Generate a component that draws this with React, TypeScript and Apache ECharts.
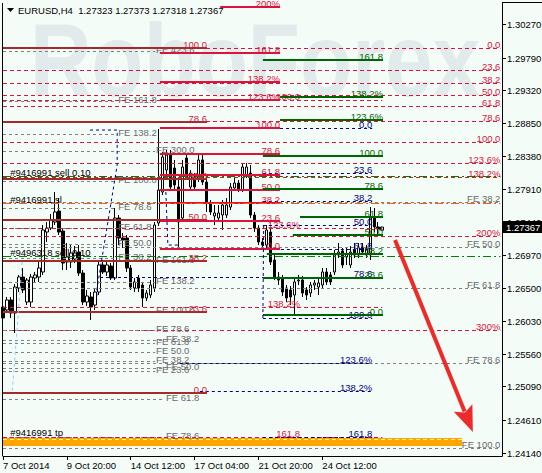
import React, { useEffect, useRef } from "react";
import * as echarts from "echarts";

const SYMBOL = "EURUSD,H4";
const xTickLabels = ["7 Oct 2014", "9 Oct 20:00", "14 Oct 12:00", "17 Oct 04:00", "21 Oct 20:00", "24 Oct 12:00"];
const TICK_EVERY = 16;
const SLOT_COUNT = 126;
const yTicks = [1.3027, 1.2979, 1.2932, 1.2885, 1.2838, 1.2791, 1.2744, 1.2697, 1.265, 1.2603, 1.2556, 1.2509, 1.2461, 1.2414];
const Y_MIN = 1.24097;
const Y_MAX = 1.30569;

// [open, close, low, high]
const candles: number[][] = [
  [1.26226, 1.26069, 1.26011, 1.26326], [1.26183, 1.26326, 1.2614, 1.26369], [1.26326, 1.2614, 1.26069, 1.26369],
  [1.2614, 1.26511, 1.25854, 1.26554], [1.26497, 1.26654, 1.2644, 1.26683], [1.26654, 1.26469, 1.26426, 1.26783],
  [1.26297, 1.26611, 1.26254, 1.2664], [1.26297, 1.26654, 1.26226, 1.26697], [1.2664, 1.26683, 1.26583, 1.26726],
  [1.26654, 1.26783, 1.26583, 1.26869], [1.26726, 1.27326, 1.26683, 1.27397], [1.27297, 1.27354, 1.27154, 1.2744],
  [1.27354, 1.27469, 1.27326, 1.27554], [1.2744, 1.27583, 1.27397, 1.27869], [1.27597, 1.27297, 1.27254, 1.27783],
  [1.27311, 1.26854, 1.26754, 1.2734], [1.26869, 1.2694, 1.26754, 1.2714], [1.26869, 1.26997, 1.26783, 1.27111],
  [1.26911, 1.26997, 1.26854, 1.27097], [1.27011, 1.26711, 1.26669, 1.27111], [1.26711, 1.26297, 1.26254, 1.26754],
  [1.26297, 1.26383, 1.2624, 1.26469], [1.26369, 1.26226, 1.2604, 1.2644], [1.26254, 1.2644, 1.26183, 1.26497],
  [1.2644, 1.26826, 1.26397, 1.26869], [1.26826, 1.26726, 1.26697, 1.26869], [1.26726, 1.26826, 1.26669, 1.26869],
  [1.26811, 1.2664, 1.26611, 1.26854], [1.2664, 1.27497, 1.26611, 1.2764], [1.27497, 1.27211, 1.27111, 1.2754],
  [1.27211, 1.27183, 1.27069, 1.27283], [1.27211, 1.26783, 1.26726, 1.27254], [1.26783, 1.26511, 1.26469, 1.26826],
  [1.26497, 1.26583, 1.2644, 1.2664], [1.2664, 1.26497, 1.2644, 1.26683], [1.2654, 1.26354, 1.26226, 1.26583],
  [1.26354, 1.26426, 1.26311, 1.26469], [1.26397, 1.2654, 1.26354, 1.26611], [1.26497, 1.27397, 1.2644, 1.2744],
  [1.27426, 1.27897, 1.27383, 1.28769], [1.27869, 1.28369, 1.27826, 1.2844], [1.28183, 1.28397, 1.28111, 1.28469],
  [1.28397, 1.2794, 1.27897, 1.28469], [1.28211, 1.27969, 1.27897, 1.28326], [1.2794, 1.2744, 1.2704, 1.2804],
  [1.27497, 1.28226, 1.2744, 1.28326], [1.28354, 1.28083, 1.2804, 1.28397], [1.2794, 1.2814, 1.27897, 1.28183],
  [1.28083, 1.2794, 1.27897, 1.2814], [1.28069, 1.28326, 1.28011, 1.28397], [1.28326, 1.28011, 1.27969, 1.28397],
  [1.28011, 1.27711, 1.27583, 1.28069], [1.27711, 1.27583, 1.2754, 1.27754], [1.27526, 1.27569, 1.27397, 1.27683],
  [1.27497, 1.27569, 1.2744, 1.27683], [1.2754, 1.27683, 1.27326, 1.27754], [1.2754, 1.27683, 1.27497, 1.27783],
  [1.27654, 1.2794, 1.27611, 1.27997], [1.27926, 1.27997, 1.27897, 1.28069], [1.27997, 1.27897, 1.27869, 1.2804],
  [1.27897, 1.28226, 1.27869, 1.28283], [1.28111, 1.28226, 1.28069, 1.28283], [1.2814, 1.2754, 1.27497, 1.28254],
  [1.2754, 1.27354, 1.27297, 1.27583], [1.27354, 1.27154, 1.27111, 1.27397], [1.27154, 1.27111, 1.2704, 1.27211],
  [1.27111, 1.27326, 1.27069, 1.27397], [1.27297, 1.26869, 1.26826, 1.27354], [1.26897, 1.26654, 1.26611, 1.26969],
  [1.26654, 1.26611, 1.2654, 1.26726], [1.2664, 1.2644, 1.26383, 1.26683], [1.26497, 1.26354, 1.26297, 1.2654],
  [1.26469, 1.26369, 1.26254, 1.26526], [1.26397, 1.26583, 1.26111, 1.2664], [1.26597, 1.26611, 1.2654, 1.26683],
  [1.26611, 1.26426, 1.26369, 1.26669], [1.26469, 1.26397, 1.26326, 1.26511], [1.26426, 1.2654, 1.26369, 1.26583],
  [1.2654, 1.26569, 1.26469, 1.26611], [1.26511, 1.26569, 1.26397, 1.2664], [1.2654, 1.26726, 1.26497, 1.26783],
  [1.26726, 1.26583, 1.2654, 1.26783], [1.26683, 1.26583, 1.2654, 1.26726], [1.26726, 1.26969, 1.26683, 1.2704],
  [1.26969, 1.27011, 1.26926, 1.2714], [1.27026, 1.26826, 1.26783, 1.27069], [1.2694, 1.26983, 1.26826, 1.27069],
  [1.26826, 1.27011, 1.26783, 1.27097], [1.2704, 1.26969, 1.26926, 1.2714], [1.26969, 1.27083, 1.26926, 1.2714],
  [1.27083, 1.27011, 1.26969, 1.2714], [1.26969, 1.2704, 1.26926, 1.27111], [1.26969, 1.27497, 1.26897, 1.27654],
  [1.27511, 1.27369, 1.27297, 1.2764], [1.27369, 1.2734, 1.27254, 1.2744], [1.27323, 1.27367, 1.27318, 1.27373],
];

// Fibonacci retracement (crimson dashed, full width)
const fiboAPrices = [1.29926, 1.29611, 1.29426, 1.29254, 1.29097, 1.28883, 1.28583, 1.28283, 1.28083, 1.2724, 1.25897];
const fiboALabels = ["0.0", "23.6", "38.2", "50.0", "61.8", "78.6", "100.0", "123.6%", "138.2%", "200%", "300%"];
// second crimson dashed set
const fiboBPrices = [1.29183, 1.27354, 1.26226, 1.24369];
const fiboBLabels = ["100.0", "123.6%", "138.2%", "161.8"];
// crimson solid set
const fiboCPrices = [1.30511, 1.29854, 1.2944, 1.29183, 1.28783, 1.28411, 1.28111, 1.27897, 1.27711, 1.27454, 1.27054];
const fiboCLabels = ["200%", "161.8", "138.2%", "123.6%", "100.0", "78.6", "61.8", "50.0", "38.2", "23.6", "0.0"];
const fiboCFrom = [54.4, 39.3, 39.3, 39.3, 39.3, 39.3, 39.3, 39.3, 39.3, 39.3, 39.3];
// brown set
const fiboDPrices = [1.29926, 1.28869, 1.28054, 1.27469, 1.26883, 1.26154, 1.24997];
const fiboDLabels = ["100.0", "78.6", "61.8", "50.0", "38.2", "23.6", "0.0"];
// Fibo expansions (gray dashed)
const feAPrices = [1.29169, 1.28697, 1.28026, 1.2764, 1.27354, 1.27126, 1.26926];
const feALabels = ["FE 161.8", "FE 138.2", "FE 100.0", "FE 78.6", "FE 61.8", "FE 50.0", "FE 38.2"];
const feBPrices = [1.29883, 1.28454, 1.26883, 1.26583, 1.26169, 1.25897, 1.25711, 1.25583, 1.25454, 1.25311];
const feBLabels = ["FE 423.6", "FE 300.0", "FE 161.8", "FE 138.2", "FE 100.0", "FE 78.6", "FE 61.8", "FE 50.0", "FE 38.2", "FE 23.6"];
const feCPrices = [1.25754, 1.25354, 1.24911, 1.24369];
const feCLabels = ["FE 38.2", "FE 50.0", "FE 61.8", "FE 78.6"];
const feDPrices = [1.27726, 1.27083, 1.26497, 1.25426, 1.24211];
const feDLabels = ["FE 38.2", "FE 50.0", "FE 61.8", "FE 78.6", "FE 100.0"];
// navy retracement
const navyPrices = [1.28783, 1.2814, 1.2774, 1.27397, 1.27054, 1.26654, 1.26069, 1.25426, 1.25026, 1.24369];
const navyLabels = ["0.0", "23.6", "38.2", "50.0", "61.8", "78.6", "100.0", "123.6%", "138.2%", "161.8"];
const navyFrom = [69.4, 65.1, 65.1, 65.1, 65.1, 24.3, 65.1, 44.3, 49.3, 65.1];
// green retracement
const greenPrices = [1.29754, 1.29226, 1.28897, 1.28383, 1.27911, 1.27511, 1.27254, 1.26983, 1.2664, 1.26111];
const greenLabels = ["161.8", "138.2%", "123.6%", "100.0", "78.6", "61.8", "50.0", "38.2", "23.6", "0.0"];
const greenFrom = [65.1, 69.4, 69.4, 65.1, 65.1, 74.4, 72.6, 66.1, 65.1, 65.1];
// orders
const orderPrices = [1.28097, 1.27711, 1.26954];
const orderLabels = ["#9416991 sell 0.10", "#9416991 sl", "#9496318 sell 0.10"];
const orderKinds = ["sell", "sl", "sell"];
const tpPrice = 1.24297;
const tpLabel = "#9416991 tp";
const tpEnd = 115;

// trend lines [barIndex, price]
const trendNavy = [
  [[21.8, 1.28754], [28.6, 1.28754], [28.6, 1.28254], [23.5, 1.26469], [23.5, 1.26326]],
  [[40.8, 1.27869], [41.3, 1.27111], [44.3, 1.27111]],
  [[65.3, 1.27397], [65.1, 1.26069]],
];
const trendLight = [[4.8, 1.26869], [2.3, 1.24997]];
const arrowFrom = [98.2, 1.27183];
const arrowTo = [117.7, 1.2444];

const FONT = '"Liberation Sans", Arial, sans-serif';
const F = `9.5px ${FONT}`;

const KIND: Record<string, any> = {
  fiboA: { stroke: "#dc143c", w: 1, dash: [4, 3], color: "#dc143c" },
  fiboB: { stroke: "#dc143c", w: 1, dash: [4, 3], color: "#dc143c" },
  fiboC: { stroke: "#dc143c", w: 2, color: "#dc143c" },
  fiboD: { stroke: "#a52a2a", w: 2, color: "#d02040" },
  fe: { stroke: "#808080", w: 1, dash: [3, 3], color: "#6a6a6a" },
  navy: { stroke: "#000080", w: 1, dash: [3, 3], color: "#000080" },
  green: { stroke: "#006400", w: 2, color: "#006400" },
  sell: { stroke: "#008000", w: 1, dash: [8, 3, 2, 3], color: "#000000" },
  sl: { stroke: "#ff5a00", w: 1, dash: [8, 3, 2, 3], color: "#000000" },
};

type Seg = { price: number; from: number; to: number; kind: string; label: string; mode: string; labelAt: number };

function buildSegments(): Seg[] {
  const segs: Seg[] = [];
  const add = (prices: number[], labels: string[], kind: string, from: number | number[], to: number, mode: string, labelAt: number) => {
    prices.forEach((p, i) =>
      segs.push({ price: p, from: Array.isArray(from) ? from[i] : from, to, kind, label: labels[i], mode, labelAt })
    );
  };
  add(fiboAPrices, fiboALabels, "fiboA", 0, 124.6, "aboveRight", 124.6);
  add(feDPrices, feDLabels, "fe", 0, 124.6, "aboveRight", 124.6);
  add(feAPrices, feALabels, "fe", 0, 28.6, "afterEnd", 28.6);
  add(feBPrices, feBLabels, "fe", 0, 38.1, "afterEnd", 38.1);
  add(feCPrices, feCLabels, "fe", 0, 40.6, "afterEnd", 40.6);
  add(fiboBPrices, fiboBLabels, "fiboB", 0, 95, "aboveRight", 74.4);
  add(navyPrices, navyLabels, "navy", navyFrom, 92.5, "aboveRight", 92.5);
  add(fiboDPrices, fiboDLabels, "fiboD", 0, 51.1, "aboveRight", 51.1);
  add(fiboCPrices, fiboCLabels, "fiboC", fiboCFrom, 69.4, "aboveRight", 69.4);
  add(greenPrices, greenLabels, "green", greenFrom, 95.2, "aboveRight", 95.2);
  orderPrices.forEach((p, i) =>
    segs.push({ price: p, from: 0, to: 124.6, kind: orderKinds[i], label: orderLabels[i], mode: "aboveLeft", labelAt: 1.8 })
  );
  return segs;
}

function txt(text: string, x: number, y: number, fill: string, align: string, valign: string, font = F) {
  return {
    type: "text",
    style: { text, x, y, fill, font, textAlign: align, textVerticalAlign: valign, align, verticalAlign: valign },
  };
}

function mapper(api: any) {
  return (idx: number, price: number) => {
    const a = api.coord([0, price]);
    const b = api.coord([1, price]);
    return [a[0] + idx * (b[0] - a[0]), a[1]];
  };
}

function buildOption() {
  const segments = buildSegments();
  const cats = Array.from({ length: SLOT_COUNT }, (_, i) => String(i));
  const showTick = (i: number) => i % TICK_EVERY === 0 && i / TICK_EVERY < xTickLabels.length;
  const last = candles[candles.length - 1];
  const header = `${SYMBOL}  ${last[0].toFixed(5)} ${last[3].toFixed(5)} ${last[2].toFixed(5)} ${last[1].toFixed(5)}`;

  const levelRender = (params: any, api: any) => {
    const s = segments[params.dataIndex];
    const k = KIND[s.kind];
    const P = mapper(api);
    const p = P(0, s.price);
    const y = k.w % 2 === 1 ? Math.round(p[1]) + 0.5 : Math.round(p[1]);
    const x1 = P(s.from, s.price)[0];
    const x2 = P(s.to, s.price)[0];
    const style: any = { stroke: k.stroke, lineWidth: k.w };
    if (k.dash) style.lineDash = k.dash;
    const children: any[] = [{ type: "line", shape: { x1, y1: y, x2, y2: y }, style }];
    const lx = P(s.labelAt, s.price)[0];
    if (s.mode === "aboveRight") children.push(txt(s.label, lx, y + 1, k.color, "right", "bottom"));
    else if (s.mode === "aboveLeft") children.push(txt(s.label, lx, y + 1, k.color, "left", "bottom"));
    else children.push(txt(s.label, x2 + 1, y - 2, k.color, "left", "middle"));
    return { type: "group", children };
  };

  const tpRender = (params: any, api: any) => {
    const P = mapper(api);
    const a = P(0, tpPrice);
    const b = P(tpEnd, tpPrice);
    return {
      type: "group",
      children: [
        { type: "rect", shape: { x: a[0], y: Math.round(a[1]) - 4, width: b[0] - a[0], height: 8 }, style: { fill: "#ffa500" } },
        { type: "line", shape: { x1: a[0], y1: Math.round(a[1]) - 2.5, x2: b[0], y2: Math.round(a[1]) - 2.5 }, style: { stroke: "#fff2a0", lineWidth: 1, lineDash: [4, 3] } },
        txt(tpLabel, P(1.8, tpPrice)[0], Math.round(a[1]) - 5, "#000000", "left", "bottom"),
      ],
    };
  };

  const trendRender = (params: any, api: any) => {
    const P = mapper(api);
    const children: any[] = trendNavy.map((pl) => ({
      type: "polyline",
      shape: { points: pl.map((q) => P(q[0], q[1])) },
      style: { stroke: "#000080", lineWidth: 1, lineDash: [3, 3], fill: "none" },
    }));
    children.push({
      type: "polyline",
      shape: { points: trendLight.map((q) => P(q[0], q[1])) },
      style: { stroke: "#87cefa", lineWidth: 1, lineDash: [3, 3], fill: "none" },
    });
    return { type: "group", children };
  };

  const arrowRender = (params: any, api: any) => {
    const P = mapper(api);
    const s = P(arrowFrom[0], arrowFrom[1]);
    const t = P(arrowTo[0], arrowTo[1]);
    const dx = t[0] - s[0];
    const dy = t[1] - s[1];
    const len = Math.sqrt(dx * dx + dy * dy);
    const ux = dx / len;
    const uy = dy / len;
    const bx = t[0] - ux * 26;
    const by = t[1] - uy * 26;
    const px = uy;
    const py = -ux;
    return {
      type: "group",
      children: [
        { type: "line", shape: { x1: s[0], y1: s[1], x2: bx + ux * 4, y2: by + uy * 4 }, style: { stroke: "#ee2a2a", lineWidth: 4 } },
        {
          type: "polygon",
          shape: { points: [[t[0], t[1]], [bx + px * 10, by + py * 10], [bx + ux * 5, by + uy * 5], [bx - px * 10, by - py * 10]] },
          style: { fill: "#ee2a2a" },
        },
      ],
    };
  };

  const yLabelRender = (params: any, api: any) => {
    const v = yTicks[params.dataIndex];
    const a = api.coord([0, v]);
    const x = params.coordSys.x + params.coordSys.width;
    const y = Math.round(a[1]) + 0.5;
    return {
      type: "group",
      children: [
        { type: "line", shape: { x1: x, y1: y, x2: x + 4, y2: y }, style: { stroke: "#000", lineWidth: 1 } },
        txt(v.toFixed(5), x + 5, y, "#000000", "left", "middle"),
      ],
    };
  };

  const tagRender = (params: any, api: any) => {
    const v = last[1];
    const a = api.coord([0, v]);
    const x = params.coordSys.x + params.coordSys.width;
    const y = Math.round(a[1]);
    return {
      type: "group",
      children: [
        { type: "rect", shape: { x: x + 1, y: y - 6, width: 40, height: 12 }, style: { fill: "#000000" } },
        txt(v.toFixed(5), x + 4, y, "#ffffff", "left", "middle"),
      ],
    };
  };

  return {
    animation: false,
    backgroundColor: "#f4fcf8",
    grid: { left: 3, right: 40, top: 3, bottom: 17 },
    xAxis: {
      type: "category",
      data: cats,
      boundaryGap: false,
      axisLine: { show: true, lineStyle: { color: "#000", width: 1 } },
      axisTick: { show: true, interval: (i: number) => showTick(i), length: 4, lineStyle: { color: "#000" } },
      axisLabel: {
        interval: (i: number) => showTick(i),
        formatter: (_v: string, i: number) => xTickLabels[i / TICK_EVERY] ?? "",
        align: "left",
        margin: 4,
        color: "#000",
        fontSize: 9.5,
        fontFamily: FONT,
      },
      splitLine: { show: false },
    },
    yAxis: {
      type: "value",
      position: "right",
      min: Y_MIN,
      max: Y_MAX,
      axisLine: { show: true, lineStyle: { color: "#000", width: 1 } },
      axisTick: { show: false },
      axisLabel: { show: false },
      splitLine: { show: false },
    },
    graphic: [
      {
        type: "text",
        x: 30,
        y: 60,
        scaleX: 0.82,
        z: -1,
        style: { text: "RoboForex", font: `bold 104px ${FONT}`, fill: "#e1ebeb", textVerticalAlign: "middle", verticalAlign: "middle" },
      },
      { type: "line", z: 10, shape: { x1: 2.5, y1: 3, x2: 2.5, y2: 456 }, style: { stroke: "#000", lineWidth: 1 } },
      { type: "line", z: 10, shape: { x1: 502, y1: 2.5, x2: 542, y2: 2.5 }, style: { stroke: "#000", lineWidth: 1 } },
      { type: "polygon", z: 10, shape: { points: [[7, 8], [14, 8], [10.5, 12]] }, style: { fill: "#000" } },
      { type: "text", z: 10, x: 18, y: 10, style: { text: header, font: F, fill: "#000", textVerticalAlign: "middle", verticalAlign: "middle" } },
    ],
    series: [
      {
        type: "candlestick",
        data: candles,
        barWidth: 3,
        z: 2,
        itemStyle: { color: "#ffffff", color0: "#000000", borderColor: "#000000", borderColor0: "#000000", borderWidth: 1 },
      },
      { type: "custom", z: 3, renderItem: tpRender, data: [[0, tpPrice]], encode: { x: 0, y: 1 }, silent: true },
      { type: "custom", z: 4, renderItem: levelRender, data: segments.map((s) => [0, s.price]), encode: { x: 0, y: 1 }, silent: true },
      { type: "custom", z: 4, renderItem: trendRender, data: [[0, trendLight[0][1]]], encode: { x: 0, y: 1 }, silent: true },
      { type: "custom", z: 6, renderItem: arrowRender, data: [[0, arrowFrom[1]]], encode: { x: 0, y: 1 }, silent: true },
      { type: "custom", z: 6, renderItem: yLabelRender, data: yTicks.map((v) => [0, v]), encode: { x: 0, y: 1 }, silent: true },
      { type: "custom", z: 7, renderItem: tagRender, data: [[0, last[1]]], encode: { x: 0, y: 1 }, silent: true },
    ],
  };
}

export default function App() {
  const ref = useRef<HTMLDivElement>(null);
  useEffect(() => {
    document.body.style.margin = "0";
    const chart = echarts.init(ref.current as HTMLDivElement, undefined, { renderer: "svg" });
    chart.setOption(buildOption() as any);
    return () => chart.dispose();
  }, []);
  return <div ref={ref} style={{ width: 542, height: 473 }} />;
}
